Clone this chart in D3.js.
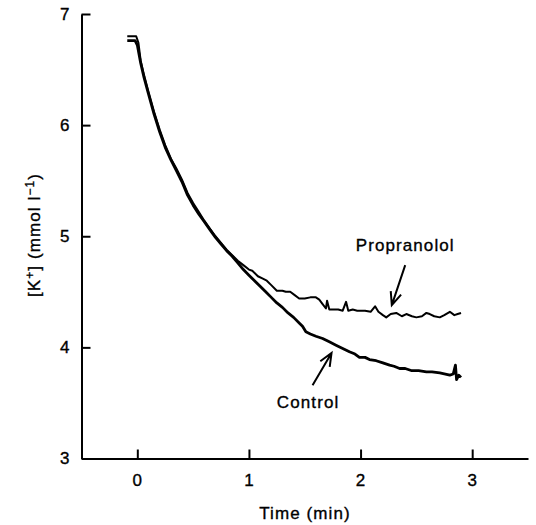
<!DOCTYPE html>
<html>
<head>
<meta charset="utf-8">
<script src="https://cdn.jsdelivr.net/npm/d3@7"></script>
<style>
  body { margin: 0; background: #fff; }
  text { font-family: "Liberation Sans", Arial, sans-serif; fill: #000; }
</style>
</head>
<body>
<div id="chart"></div>
<script>
// --- data ---
const xTicks = [0, 1, 2, 3];
const yTicks = [3, 4, 5, 6, 7];

const controlTime = [-0.09, -0.02, 0.0, 0.03, 0.06, 0.10, 0.15, 0.20, 0.25, 0.30, 0.35, 0.40, 0.45, 0.50,
  0.55, 0.60, 0.65, 0.70, 0.75, 0.80, 0.85, 0.90, 0.95, 1.00, 1.05, 1.10, 1.15, 1.20, 1.25, 1.30, 1.35,
  1.40, 1.45, 1.48, 1.51, 1.55, 1.60, 1.66, 1.72, 1.78, 1.84, 1.90, 1.95, 1.99, 2.04, 2.08, 2.14, 2.20,
  2.26, 2.30, 2.35, 2.40, 2.46, 2.52, 2.59, 2.64, 2.71, 2.76, 2.80, 2.83, 2.85, 2.86, 2.88, 2.90];
const controlK = [6.76, 6.76, 6.72, 6.56, 6.43, 6.28, 6.10, 5.94, 5.80, 5.69, 5.59, 5.49, 5.37, 5.28,
  5.20, 5.13, 5.06, 4.99, 4.93, 4.87, 4.82, 4.76, 4.70, 4.65, 4.60, 4.55, 4.50, 4.45, 4.40, 4.36, 4.31,
  4.27, 4.22, 4.19, 4.14, 4.12, 4.10, 4.08, 4.05, 4.02, 3.99, 3.96, 3.94, 3.91, 3.91, 3.89, 3.88, 3.86,
  3.84, 3.83, 3.81, 3.81, 3.79, 3.79, 3.78, 3.78, 3.77, 3.76, 3.75, 3.76, 3.84, 3.71, 3.75, 3.73];

const propTime = [-0.09, -0.01, 0.01, 0.03, 0.06, 0.10, 0.15, 0.20, 0.25, 0.30, 0.35, 0.40, 0.45, 0.50,
  0.55, 0.60, 0.65, 0.70, 0.75, 0.80, 0.85, 0.90, 0.95, 1.00, 1.03, 1.08, 1.12, 1.16, 1.20, 1.25, 1.30,
  1.33, 1.37, 1.41, 1.45, 1.50, 1.55, 1.60, 1.63, 1.66, 1.69, 1.70, 1.72, 1.76, 1.80, 1.84, 1.87, 1.89,
  1.93, 1.97, 2.04, 2.09, 2.13, 2.16, 2.20, 2.23, 2.27, 2.32, 2.37, 2.41, 2.46, 2.50, 2.55, 2.59, 2.62,
  2.66, 2.71, 2.75, 2.80, 2.84, 2.87, 2.90];
const propK = [6.80, 6.80, 6.74, 6.58, 6.45, 6.30, 6.12, 5.96, 5.82, 5.70, 5.61, 5.51, 5.39, 5.30,
  5.22, 5.14, 5.07, 5.00, 4.94, 4.88, 4.83, 4.78, 4.74, 4.70, 4.69, 4.64, 4.62, 4.60, 4.56, 4.51, 4.51,
  4.50, 4.50, 4.47, 4.44, 4.44, 4.45, 4.45, 4.43, 4.39, 4.35, 4.42, 4.34, 4.34, 4.34, 4.33, 4.41, 4.33,
  4.34, 4.33, 4.33, 4.32, 4.37, 4.32, 4.29, 4.27, 4.30, 4.31, 4.28, 4.30, 4.28, 4.27, 4.28, 4.31, 4.30,
  4.28, 4.27, 4.29, 4.32, 4.29, 4.30, 4.31];

// annotations in data units: label centre, arrow tail, arrow tip
const labels = [
  { text: "Propranolol", at: [2.40, 4.92], tail: [2.40, 4.74], tip: [2.28, 4.38] },
  { text: "Control", at: [1.53, 3.51], tail: [1.57, 3.66], tip: [1.74, 3.95] }
];

// --- layout ---
const width = 536, height = 525;
const x = d3.scaleLinear().domain([-0.5, 3.5]).range([81.5, 528]);
const y = d3.scaleLinear().domain([3, 7]).range([458.5, 14]);

const svg = d3.select("#chart").append("svg")
  .attr("width", width).attr("height", height)
  .style("background", "#fff");

const fontSize = 17;
const styleText = sel => sel
  .style("font-size", fontSize + "px")
  .style("letter-spacing", "1.1px")
  .attr("stroke", "#000").attr("stroke-width", 0.35);

// x axis (ticks point up)
const gx = svg.append("g")
  .attr("transform", `translate(0,${y(3)})`)
  .call(d3.axisBottom(x).tickValues(xTicks).tickFormat(d3.format("d"))
    .tickSizeInner(-9).tickSizeOuter(0).tickPadding(15.5));

// y axis (ticks point right)
const gy = svg.append("g")
  .attr("transform", `translate(${x(-0.5)},0)`)
  .call(d3.axisLeft(y).tickValues(yTicks).tickFormat(d3.format("d"))
    .tickSizeInner(-9).tickSizeOuter(0).tickPadding(11));

[gx, gy].forEach(g => {
  g.select(".domain").attr("stroke", "#000").attr("stroke-width", 2);
  g.selectAll(".tick line").attr("stroke", "#000").attr("stroke-width", 2);
  g.selectAll(".tick text").attr("font-family", null).call(styleText);
});
gx.attr("font-family", null);
gy.attr("font-family", null);

// axis titles
svg.append("text")
  .attr("x", 305).attr("y", 519)
  .attr("text-anchor", "middle")
  .call(styleText)
  .text("Time (min)");

const yTitle = svg.append("text")
  .attr("transform", "translate(40,235) rotate(-90)")
  .attr("text-anchor", "middle")
  .call(styleText);
yTitle.append("tspan").text("[K");
yTitle.append("tspan").attr("dy", -6).style("font-size", "12px").text("+");
yTitle.append("tspan").attr("dy", 6).text("] (mmol l");
yTitle.append("tspan").attr("dy", -6).style("font-size", "12px").text("\u22121");
yTitle.append("tspan").attr("dy", 6).text(")");

// curves
const line = d3.line().x(d => x(d[0])).y(d => y(d[1]));
const controlData = controlTime.map((t, i) => [t, controlK[i]]);
const propData = propTime.map((t, i) => [t, propK[i]]);

svg.append("path")
  .datum(propData)
  .attr("d", line)
  .attr("fill", "none").attr("stroke", "#000")
  .attr("stroke-width", 2).attr("stroke-linejoin", "round");

svg.append("path")
  .datum(controlData)
  .attr("d", line)
  .attr("fill", "none").attr("stroke", "#000")
  .attr("stroke-width", 2.8).attr("stroke-linejoin", "round");

// labels with arrows
labels.forEach(l => {
  svg.append("text")
    .attr("x", x(l.at[0])).attr("y", y(l.at[1]))
    .attr("dy", "0.36em")
    .attr("text-anchor", "middle")
    .call(styleText)
    .text(l.text);

  const x0 = x(l.tail[0]), y0 = y(l.tail[1]);
  const x1 = x(l.tip[0]), y1 = y(l.tip[1]);
  const ang = Math.atan2(y0 - y1, x0 - x1);
  const len = 14, spread = 0.4;
  const a1 = [x1 + len * Math.cos(ang - spread), y1 + len * Math.sin(ang - spread)];
  const a2 = [x1 + len * Math.cos(ang + spread), y1 + len * Math.sin(ang + spread)];
  svg.append("path")
    .attr("d", `M${x0},${y0}L${x1},${y1}M${a1[0]},${a1[1]}L${x1},${y1}L${a2[0]},${a2[1]}`)
    .attr("fill", "none").attr("stroke", "#000")
    .attr("stroke-width", 2).attr("stroke-linejoin", "miter");
});
</script>
</body>
</html>
